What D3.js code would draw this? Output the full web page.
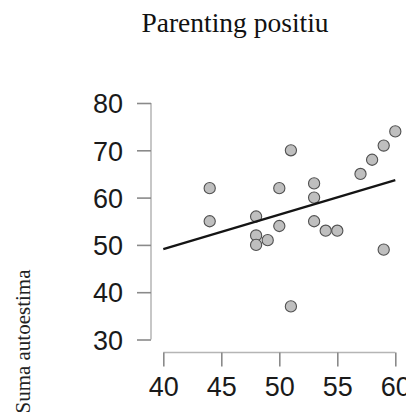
<!DOCTYPE html>
<html>
<head>
<meta charset="utf-8">
<script src="https://cdn.jsdelivr.net/npm/d3@7"></script>
<style>
    body { margin: 0; background: #fff; }
</style>
</head>
<body>
<svg></svg>
<script>

let width = 406, height = 417;

// Data
let parenting = [44, 44, 48, 48, 48, 49, 50, 50, 51, 51, 53, 53, 53, 54, 55, 57, 58, 59, 59, 60];
let autoestima = [62, 55, 56, 52, 50, 51, 62, 54, 70, 37, 63, 60, 55, 53, 53, 65, 68, 71, 49, 74];
let xTicks = [40, 45, 50, 55, 60];
let yTicks = [30, 40, 50, 60, 70, 80];
let title = "Parenting positiu";
let yTitle = "Suma autoestima";

let points = parenting.map((x, i) => ({ x: x, y: autoestima[i] }));

// the reference is cut just right of the last tick label
let svg = d3.select("svg")
    .attr("width", width)
    .attr("height", height);

let x = d3.scaleLinear().domain([40, 60]).range([163.3, 395.3]);
let y = d3.scaleLinear().domain([30, 80]).range([339.5, 103]);

//Y axis
let yAxis = svg.append("g")
    .attr("transform", "translate(151,0)")
    .call(d3.axisLeft(y).tickValues(yTicks).tickSize(14).tickPadding(14));

//X axis
let xAxis = svg.append("g")
    .attr("transform", "translate(0,352.5)")
    .call(d3.axisBottom(x).tickValues(xTicks).tickSize(14).tickPadding(10));

[xAxis, yAxis].forEach(ax => {
    ax.select(".domain").attr("stroke", "#b5b5b5").attr("stroke-width", 1.5);
    ax.selectAll(".tick line").attr("stroke", "#8a8a8a").attr("stroke-width", 1.6);
    ax.selectAll(".tick text")
        .attr("fill", "#1a1a1a")
        .style("font-family", "'Liberation Sans', Arial, sans-serif")
        .style("font-size", "27px");
});
// R style axes: no outer ticks, line only spans the ticks
yAxis.select(".domain").attr("d", "M0," + y(30) + "V" + y(80));
xAxis.select(".domain").attr("d", "M" + x(40) + ",0H" + x(60));
yAxis.selectAll(".tick text").attr("dy", "0.36em");

//Points
svg.append("g")
    .selectAll("circle")
    .data(points)
    .enter()
    .append("circle")
    .attr("cx", d => x(d.x))
    .attr("cy", d => y(d.y))
    .attr("r", 5.6)
    .style("fill", "#bfbfbf")
    .style("stroke", "#505050")
    .style("stroke-width", 1.1);

//Regression line (least squares), drawn over the points
let mx = d3.mean(points, d => d.x), my = d3.mean(points, d => d.y);
let slope = d3.sum(points, d => (d.x - mx) * (d.y - my)) / d3.sum(points, d => (d.x - mx) * (d.x - mx));
let icpt = my - slope * mx;

svg.append("line")
    .attr("x1", x(40))
    .attr("y1", y(icpt + slope * 40))
    .attr("x2", x(60))
    .attr("y2", y(icpt + slope * 60))
    .attr("stroke", "#141414")
    .attr("stroke-width", 2.2);

//Title
svg.append("text")
    .attr("x", 235)
    .attr("y", 32)
    .attr("text-anchor", "middle")
    .text(title)
    .style("font-family", "'Liberation Serif', 'Times New Roman', serif")
    .style("font-size", "27.5px")
    .style("fill", "#111");

//Y title
svg.append("text")
    .attr("transform", "translate(30,341.5) rotate(-90)")
    .attr("text-anchor", "middle")
    .text(yTitle)
    .style("font-family", "'Liberation Serif', 'Times New Roman', serif")
    .style("font-size", "21px")
    .style("fill", "#222");

</script>
</body>
</html>
